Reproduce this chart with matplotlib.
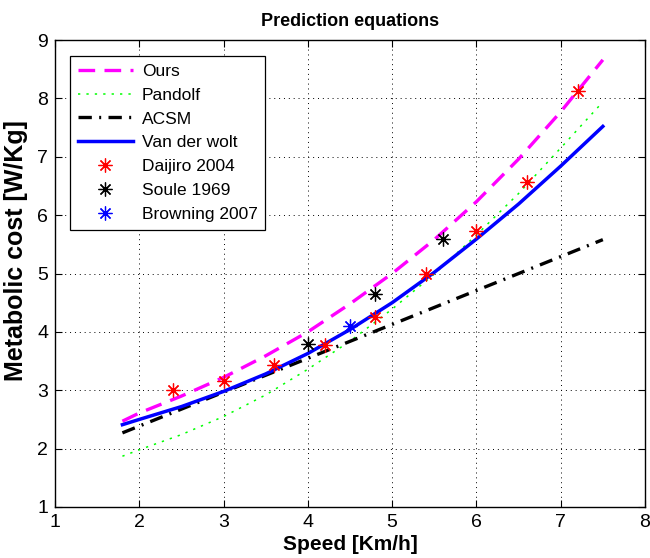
import numpy as np
import matplotlib
matplotlib.use('Agg')
import matplotlib.pyplot as plt

plt.rcParams['font.family'] = ['Liberation Sans', 'DejaVu Sans']

# curves (speed in km/h, cost in W/kg)
speed = [1.8, 2.0, 2.5, 3.0, 3.5, 4.0, 4.5, 5.0, 5.5, 6.0, 6.5, 7.0, 7.5]
ours = [2.47, 2.61, 2.90, 3.22, 3.59, 4.00, 4.48, 5.00, 5.58, 6.23, 6.96, 7.77, 8.66]
pandolf = [1.87, 1.98, 2.24, 2.55, 2.92, 3.36, 3.84, 4.39, 4.99, 5.66, 6.37, 7.15, 7.94]
acsm_speed = [1.8, 7.5]
acsm = [2.27, 5.58]
vanderwolt = [2.41, 2.50, 2.72, 2.98, 3.28, 3.63, 4.04, 4.50, 5.02, 5.59, 6.19, 6.84, 7.52]

# measured points
daijiro_x = [2.4, 3.0, 3.6, 4.2, 4.8, 5.4, 6.0, 6.6, 7.2]
daijiro_y = [3.00, 3.16, 3.44, 3.78, 4.26, 5.00, 5.73, 6.57, 8.13]
soule_x = [4.0, 4.8, 5.6]
soule_y = [3.80, 4.65, 5.59]
browning_x = [4.5]
browning_y = [4.10]

fig = plt.figure(figsize=(6.5, 5.58), dpi=100)
ax = fig.add_axes([0.0846, 0.0914, 0.9077, 0.8369])

ast = (8, 2, 0)  # matlab style asterisk
ax.plot(speed, ours, color=(1, 0, 1), lw=2.4, dashes=(5, 2.8), label='Ours')
ax.plot(speed, pandolf, color=(0, 1, 0), lw=1.1, linestyle=(0, (1.5, 4)), label='Pandolf')
ax.plot(acsm_speed, acsm, color='k', lw=2.4, dashes=(4, 2.2, 0.6, 2.2), label='ACSM')
ax.plot(speed, vanderwolt, color=(0, 0, 1), lw=2.5, label='Van der wolt')
ax.plot(daijiro_x, daijiro_y, ls='none', marker=ast, ms=10, mew=0.9, color='r', label='Daijiro 2004')
ax.plot(soule_x, soule_y, ls='none', marker=ast, ms=10, mew=0.9, color='k', label='Soule 1969')
ax.plot(browning_x, browning_y, ls='none', marker=ast, ms=10, mew=0.9, color='b', label='Browning 2007')

ax.set_xlim(1, 8)
ax.set_ylim(1, 9)
ax.set_xticks(range(1, 9))
ax.set_yticks(range(1, 10))
ax.grid(True, color='k', linestyle=(0, (1, 4)), lw=0.7)
ax.tick_params(direction='in', length=5, top=True, right=True, labelsize=14, width=0.8, pad=5)
for s in ax.spines.values():
    s.set_linewidth(1.0)

ax.set_title('Prediction equations', fontsize=13, fontweight='bold', pad=10)
ax.set_xlabel('Speed [Km/h]', fontsize=15, fontweight='bold', labelpad=3)
ax.set_ylabel('Metabolic cost [W/Kg]', fontsize=18, fontweight='bold')
ax.yaxis.set_label_coords(-0.045, 0.55)

leg = ax.legend(loc='upper left', bbox_to_anchor=(0.025, 0.966), borderaxespad=0,
                fontsize=12.5, handlelength=3.2, labelspacing=0.5, fancybox=False,
                framealpha=1, edgecolor='k', borderpad=0.45, handletextpad=0.5)
leg.get_frame().set_linewidth(0.9)

plt.savefig('out.png', dpi=100)
